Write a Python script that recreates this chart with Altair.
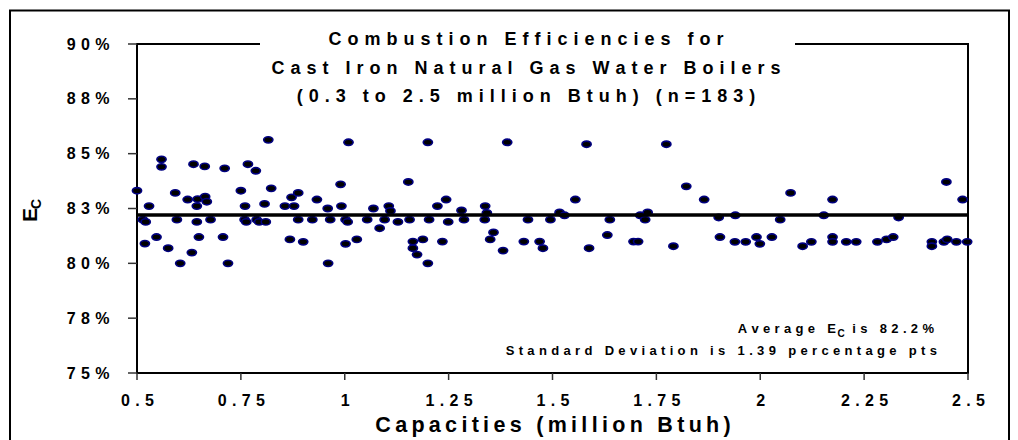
import altair as alt
import pandas as pd

FONT = "Liberation Sans"

# ---- data (capacity in million Btuh, efficiency in %) ----
CAPACITY = [
    0.500, 0.559, 0.559, 0.529, 0.514, 0.521, 0.519, 0.547, 0.575, 0.604,
    0.592, 0.596, 0.622, 0.632, 0.636, 0.646, 0.644, 0.664, 0.668, 0.644,
    0.649, 0.663, 0.677, 0.711, 0.707, 0.719, 0.750, 0.760, 0.759, 0.763,
    0.767, 0.786, 0.788, 0.794, 0.807, 0.810, 0.816, 0.823, 0.872, 0.888,
    0.856, 0.878, 0.888, 0.922, 0.868, 0.900, 0.933, 0.959, 0.965, 0.960,
    0.990, 0.992, 1.002, 1.007, 1.002, 1.029, 1.009, 1.054, 1.069, 1.084,
    1.096, 1.106, 1.110, 1.128, 1.153, 1.156, 1.164, 1.164, 1.174, 1.188,
    1.200, 1.200, 1.203, 1.223, 1.244, 1.249, 1.235, 1.281, 1.287, 1.338,
    1.342, 1.337, 1.358, 1.350, 1.381, 1.391, 1.441, 1.431, 1.469, 1.477,
    1.495, 1.517, 1.529, 1.555, 1.582, 1.588, 1.632, 1.638, 1.695, 1.706,
    1.711, 1.729, 1.723, 1.774, 1.791, 1.822, 1.865, 1.900, 1.903, 1.940,
    1.939, 1.965, 1.991, 1.999, 2.028, 2.048, 2.073, 2.102, 2.123, 2.153,
    2.174, 2.174, 2.174, 2.207, 2.231, 2.282, 2.304, 2.320, 2.333, 2.413,
    2.413, 2.442, 2.450, 2.448, 2.472, 2.487, 2.498,
]
EFFICIENCY = [
    83.31, 84.74, 84.40, 82.61, 81.99, 81.89, 80.90, 81.20, 80.69, 80.00,
    83.21, 81.99, 82.91, 80.49, 84.52, 82.93, 82.61, 83.04, 82.81, 81.89,
    81.20, 84.42, 81.99, 84.33, 81.20, 80.00, 83.31, 82.61, 81.99, 81.89,
    84.52, 84.22, 81.99, 81.89, 82.71, 81.89, 85.63, 83.42, 83.01, 83.21,
    82.61, 82.61, 81.99, 81.99, 81.09, 80.98, 82.91, 82.50, 81.99, 80.00,
    83.60, 82.61, 81.99, 81.89, 80.89, 81.09, 85.52, 81.99, 82.50, 81.60,
    81.99, 82.61, 82.39, 81.89, 83.71, 81.99, 80.99, 80.69, 80.40, 81.09,
    80.00, 85.52, 81.99, 82.61, 82.91, 81.89, 80.99, 82.41, 81.99, 82.61,
    82.30, 81.99, 81.41, 81.09, 80.58, 85.52, 81.99, 80.99, 80.99, 80.69,
    81.99, 82.32, 82.19, 82.91, 85.43, 80.69, 81.29, 81.99, 80.99, 80.99,
    82.19, 82.32, 81.99, 85.43, 80.78, 83.51, 82.91, 82.09, 81.20, 82.19,
    80.98, 80.98, 81.20, 80.89, 81.20, 81.99, 83.21, 80.78, 80.98, 82.19,
    82.91, 81.20, 80.98, 80.98, 80.98, 80.98, 81.09, 81.20, 82.09, 80.98,
    80.78, 80.98, 81.09, 83.71, 80.98, 82.91, 80.98,
]
MEAN_EFFICIENCY = [82.2]

X_TICKS = [0.5, 0.75, 1.0, 1.25, 1.5, 1.75, 2.0, 2.25, 2.5]
X_LABELS = ["0.5", "0.75", "1", "1.25", "1.5", "1.75", "2", "2.25", "2.5"]
Y_TICKS = [75, 77.5, 80, 82.5, 85, 87.5, 90]
Y_LABELS = ["75%", "78%", "80%", "83%", "85%", "88%", "90%"]

TITLE_LINES = [
    "Combustion Efficiencies for",
    "Cast Iron Natural Gas Water Boilers",
    "(0.3 to 2.5 million Btuh) (n=183)",
]
X_TITLE = "Capacities (million Btuh)"
Y_TITLE_MAIN, Y_TITLE_SUB = "E", "C"
NOTE_AVG_A, NOTE_AVG_SUB, NOTE_AVG_B = "Average E", "C", "is 82.2%"
NOTE_SD = "Standard Deviation is 1.39 percentage pts"


def spaced(s, sep="\u2004"):
    return sep.join(s)


def label_expr(values, labels, sep="\u2004"):
    expr = "''"
    for v, l in reversed(list(zip(values, labels))):
        expr = f"datum.value == {v} ? '{spaced(l, sep)}' : ({expr})"
    return expr


df = pd.DataFrame({"capacity": CAPACITY, "efficiency": EFFICIENCY})
mean_df = pd.DataFrame({"efficiency": MEAN_EFFICIENCY})
xtick_df = pd.DataFrame({"capacity": X_TICKS})
ytick_df = pd.DataFrame({"efficiency": Y_TICKS})
one = alt.Data(values=[{}])

W, H = 831, 329

ellipse = "M -1 0 A 1 0.68 0 1 1 1 0 A 1 0.68 0 1 1 -1 0 Z"

x_axis = alt.Axis(
    values=X_TICKS, labelExpr=label_expr(X_TICKS, X_LABELS),
    title=spaced(X_TITLE, "\u2009"), titleFont=FONT, titleFontSize=21.5,
    titleFontWeight="bold", titleColor="black", titleBaseline="alphabetic",
    titleY=58.5, titleX=W / 2, titleAlign="center",
    domain=False, grid=False, ticks=False,
    labelFont=FONT, labelFontSize=16, labelFontWeight="bold", labelColor="black",
    labelPadding=19, labelFlush=False, labelOverlap=False,
)
y_axis = alt.Axis(
    values=Y_TICKS, labelExpr=label_expr(Y_TICKS, Y_LABELS), title="",
    domain=False, grid=False, ticks=False,
    labelFont=FONT, labelFontSize=16, labelFontWeight="bold", labelColor="black",
    labelPadding=28, labelFlush=False, labelOverlap=False,
)

x_scale = alt.Scale(domain=[0.5, 2.5], nice=False, zero=False)
y_scale = alt.Scale(domain=[75, 90], nice=False, zero=False)

# outer chart-area border
outer = alt.Chart(one).mark_rect(fill="transparent", stroke="black", strokeWidth=2).encode(
    x=alt.value(-127), x2=alt.value(872), y=alt.value(-33.5), y2=alt.value(470)
)
frame = alt.Chart(one).mark_rect(fill="transparent", stroke="black", strokeWidth=2).encode(
    x=alt.value(0), x2=alt.value(W), y=alt.value(0), y2=alt.value(H)
)
x_ticks = alt.Chart(xtick_df).mark_rule(color="#333333", strokeWidth=1.5).encode(
    x=alt.X("capacity:Q", scale=x_scale, axis=x_axis),
    y=alt.value(H), y2=alt.value(H + 7),
)
y_ticks = alt.Chart(ytick_df).mark_rule(color="#333333", strokeWidth=1.5).encode(
    y=alt.Y("efficiency:Q", scale=y_scale, axis=y_axis),
    x=alt.value(-9), x2=alt.value(0),
)
points = alt.Chart(df).mark_point(
    shape=ellipse, size=85, filled=True, fill="black", stroke="#000080",
    strokeWidth=1.6, opacity=1, clip=False,
).encode(
    x=alt.X("capacity:Q", scale=x_scale, axis=x_axis),
    y=alt.Y("efficiency:Q", scale=y_scale, axis=y_axis),
)
mean_rule = alt.Chart(mean_df).mark_rule(color="black", strokeWidth=3.5).encode(
    y=alt.Y("efficiency:Q", scale=y_scale, axis=y_axis)
)

title_box = alt.Chart(one).mark_rect(fill="white").encode(
    x=alt.value(123), x2=alt.value(658), y=alt.value(-14), y2=alt.value(64)
)
title_layers = [
    alt.Chart(one).mark_text(
        text=spaced(line), font=FONT, fontSize=18, fontWeight="bold",
        align="center", baseline="middle", color="black",
    ).encode(x=alt.value(389), y=alt.value(yy))
    for line, yy in zip(TITLE_LINES, [-4, 24.5, 53])
]

y_title_main = alt.Chart(one).mark_text(
    text=Y_TITLE_MAIN, font=FONT, fontSize=21, fontWeight="bold", angle=270,
    align="left", baseline="alphabetic", color="black",
).encode(x=alt.value(-100), y=alt.value(178))
y_title_sub = alt.Chart(one).mark_text(
    text=Y_TITLE_SUB, font=FONT, fontSize=14, fontWeight="bold", angle=270,
    align="left", baseline="alphabetic", color="black",
).encode(x=alt.value(-96), y=alt.value(165))

note_style = dict(font=FONT, fontWeight="bold", color="black", baseline="alphabetic")
note_a = alt.Chart(one).mark_text(text=spaced(NOTE_AVG_A), fontSize=13, align="right", **note_style).encode(
    x=alt.value(699), y=alt.value(289))
note_sub = alt.Chart(one).mark_text(text=NOTE_AVG_SUB, fontSize=10, align="left", **note_style).encode(
    x=alt.value(700.5), y=alt.value(292.5))
note_b = alt.Chart(one).mark_text(text=spaced(NOTE_AVG_B), fontSize=13, align="right", **note_style).encode(
    x=alt.value(797), y=alt.value(289))
note_sd = alt.Chart(one).mark_text(text=spaced(NOTE_SD), fontSize=13, align="right", **note_style).encode(
    x=alt.value(800), y=alt.value(310.5))

chart = alt.layer(
    outer, frame, x_ticks, y_ticks, points, mean_rule, title_box,
    *title_layers, y_title_main, y_title_sub, note_a, note_sub, note_b, note_sd,
).properties(
    width=W, height=H,
    autosize=alt.AutoSizeParams(type="none"),
    padding={"left": 129, "top": 36, "right": 42, "bottom": 71},
    background="white",
).configure_view(strokeWidth=0)

chart.save("out.html", embed_options={"renderer": "svg", "actions": False})
